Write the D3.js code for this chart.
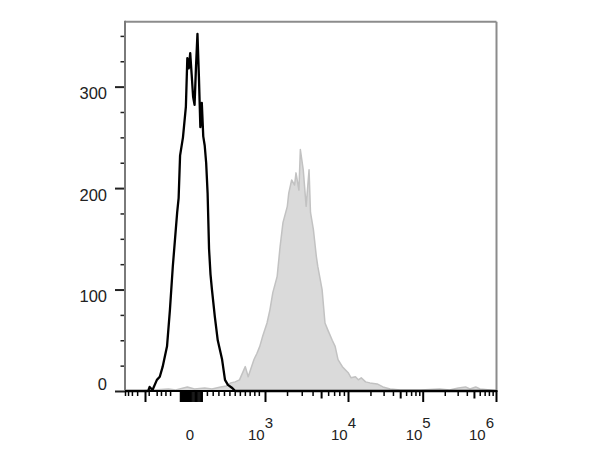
<!DOCTYPE html>
<html>
<head>
<meta charset="utf-8">
<script src="https://cdn.jsdelivr.net/npm/d3@7"></script>
<style>
  html, body { margin: 0; padding: 0; background: #fff; }
  svg { display: block; font-family: "Liberation Sans", Arial, sans-serif; }
</style>
</head>
<body>
<svg id="chart" width="600" height="462"></svg>
<script>
// ---------------- DATA ----------------
// Unstained control histogram (black line): display channel (0-256) and event count
const blackChannel = [0, 16, 17, 19, 22, 24, 26, 29, 31, 33, 36, 37, 38, 40, 42, 43, 44, 45, 46, 47, 48, 49, 50, 51, 52, 53, 54, 55, 56, 57, 58, 59, 60, 62, 64, 67, 69, 71, 74, 76, 256];
const blackCount   = [0, 0, 4, 1, 11, 14, 24, 44, 80, 123, 176, 190, 232, 250, 280, 328, 318, 333, 312, 290, 282, 320, 352, 310, 260, 284, 251, 242, 225, 195, 140, 115, 100, 73, 50, 31, 11, 6, 3, 0, 0];

// Stained sample histogram (grey filled)
const greyChannel = [0, 10, 20, 30, 35, 43, 48, 55, 60, 66, 70, 73, 76, 79, 83, 85, 89, 91, 93, 95, 98, 100, 102, 105, 107, 109, 112, 113, 115, 117, 118, 120, 121, 123, 125, 127, 128, 130, 132, 133, 136, 138, 140, 143, 145, 147, 150, 152, 154, 156, 159, 161, 163, 166, 169, 174, 178, 183, 190, 204, 217, 224, 230, 235, 238, 242, 245, 252, 256];
const greyCount   = [0, 0, 1, 2, 1, 4, 2, 3, 2, 4, 5, 8, 9, 11, 24, 14, 31, 37, 44, 54, 67, 80, 97, 113, 142, 166, 182, 195, 208, 203, 215, 198, 238, 218, 182, 218, 176, 159, 133, 123, 100, 67, 60, 50, 44, 31, 24, 21, 18, 13, 14, 11, 13, 9, 8, 7, 4, 2, 1, 1, 2, 1, 3, 4, 2, 4, 2, 1, 0];

// Y axis
const yMajorTicks = [0, 100, 200, 300];
const yMinorTicks = [25, 50, 75, 125, 150, 175, 225, 250, 275, 325, 350];
const yMax = 364;

// X axis (biexponential display), tick values in fluorescence units
const xKnotValues = [-5000, -1000, 0, 1e3, 1e4, 1e5, 1e6];
const xMajorTicks = [-1000, 1e3, 1e4, 1e5, 1e6];
const xMidTicks   = [5e3, 5e4, 5e5];
const xMinorTicks = [-5000, -4000, -3000, -2000, -900, -700, -600, -500, -400,
                     200, 270, 340, 410, 480, 550, 620, 690, 760, 830, 900,
                     2e3, 3e3, 4e3, 6e3, 7e3, 8e3, 9e3,
                     2e4, 3e4, 4e4, 6e4, 7e4, 8e4, 9e4,
                     2e5, 3e5, 4e5, 6e5, 7e5, 8e5, 9e5];
const xZeroTicks  = d3.range(-200, 141, 10);
const xLabelValues = [0, 1e3, 1e4, 1e5, 1e6];
const xLabelBase   = ["0", "10", "10", "10", "10"];
const xLabelExp    = ["", "3", "4", "5", "6"];

// ---------------- LAYOUT ----------------
const plot = { left: 125, right: 496, top: 21.7, bottom: 391 };
const xKnotPx = [125, 145, 190, 265, 348, 422.7, 496];
const channelMax = 256;

const svg = d3.select("#chart");
const T = v => Math.asinh(v / 1000);

const xT = d3.scaleLinear().domain(xKnotValues.map(T)).range(xKnotPx);
const xCh = d3.scaleLinear().domain([0, channelMax]).range([plot.left, plot.right]);
const y = d3.scaleLinear().domain([0, yMax]).range([plot.bottom, plot.top]);

// grey filled histogram
const greyPts = greyChannel.map((c, i) => [c, greyCount[i]]);
svg.append("path")
  .datum(greyPts)
  .attr("fill", "#dadada")
  .attr("stroke", "none")
  .attr("d", d3.area().x(d => xCh(d[0])).y0(y(0)).y1(d => y(d[1])));
svg.append("path")
  .datum(greyPts)
  .attr("fill", "none")
  .attr("stroke", "#c2c2c2")
  .attr("stroke-width", 1.5)
  .attr("stroke-linejoin", "round")
  .attr("d", d3.line().x(d => xCh(d[0])).y(d => y(d[1])));

// black histogram line
const blackPts = blackChannel.map((c, i) => [c, blackCount[i]]);
svg.append("path")
  .datum(blackPts)
  .attr("fill", "none")
  .attr("stroke", "#000")
  .attr("stroke-width", 2.3)
  .attr("stroke-linejoin", "round")
  .attr("d", d3.line().x(d => xCh(d[0])).y(d => y(d[1])));

// frame top & right
svg.append("line").attr("x1", plot.left).attr("x2", plot.right + 0.5)
  .attr("y1", plot.top).attr("y2", plot.top)
  .attr("stroke", "#8c8c8c").attr("stroke-width", 2);
svg.append("line").attr("x1", plot.right + 0.5).attr("x2", plot.right + 0.5)
  .attr("y1", plot.top).attr("y2", plot.bottom)
  .attr("stroke", "#8c8c8c").attr("stroke-width", 2);

// Y axis
function yAxisLayer(vals, size, width) {
  const g = svg.append("g").attr("transform", `translate(${plot.left},0)`)
    .call(d3.axisLeft(y).tickValues(vals).tickSize(size).tickFormat(""));
  g.select(".domain").remove();
  g.selectAll(".tick line").attr("stroke", "#222").attr("stroke-width", width);
  return g;
}
yAxisLayer(yMinorTicks, 4.5, 1.5);
yAxisLayer(yMajorTicks, 10, 2);
svg.append("line").attr("x1", plot.left).attr("x2", plot.left)
  .attr("y1", plot.top - 1).attr("y2", plot.bottom)
  .attr("stroke", "#7a7a7a").attr("stroke-width", 2);

svg.append("g").selectAll("text").data(yMajorTicks).join("text")
  .attr("x", 107)
  .attr("y", d => d === 0 ? y(d) - 1 : y(d) + 12.5)
  .attr("text-anchor", "end")
  .attr("font-size", 16.5)
  .attr("fill", "#222")
  .text(d => d);

// X axis
function xAxisLayer(vals, size, width) {
  const g = svg.append("g").attr("transform", `translate(0,${plot.bottom})`)
    .call(d3.axisBottom(xT).tickValues(vals.map(T)).tickSize(size).tickFormat(""));
  g.select(".domain").remove();
  g.selectAll(".tick line").attr("stroke", "#000").attr("stroke-width", width);
  return g;
}
xAxisLayer(xMinorTicks, 5, 1.5);
xAxisLayer(xMidTicks, 7.5, 2);
xAxisLayer(xMajorTicks, 11, 2);
xAxisLayer(xZeroTicks, 11, 1.2);
svg.append("line").attr("x1", plot.left).attr("x2", plot.right + 1.5)
  .attr("y1", plot.bottom).attr("y2", plot.bottom)
  .attr("stroke", "#000").attr("stroke-width", 2);

const xl = svg.append("g").selectAll("text").data(xLabelValues).join("text")
  .attr("x", (d, i) => i === xLabelValues.length - 1 ? plot.right - 2 : xT(T(d)) + (xLabelExp[i] ? 8 : 0))
  .attr("y", 440)
  .attr("text-anchor", (d, i) => i === xLabelValues.length - 1 ? "end" : (xLabelExp[i] ? "end" : "middle"))
  .attr("font-size", 15)
  .attr("fill", "#222");
xl.append("tspan").text((d, i) => xLabelBase[i]);
xl.append("tspan").attr("dy", -12).attr("font-size", 15).text((d, i) => xLabelExp[i]);
</script>
</body>
</html>
